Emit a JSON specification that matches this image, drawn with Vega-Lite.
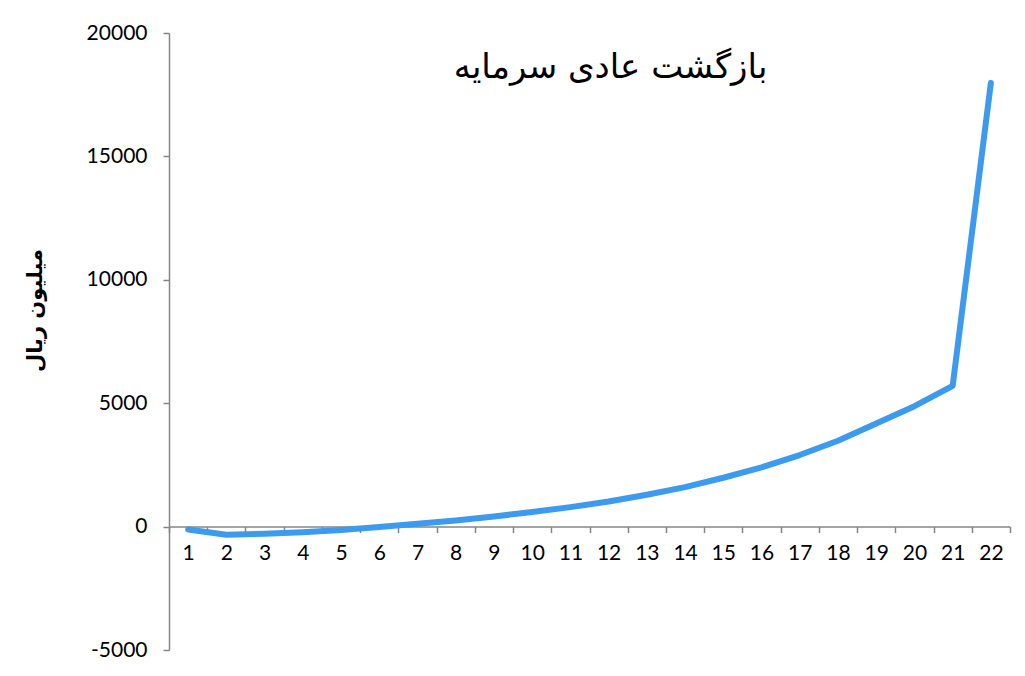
{
  "$schema": "https://vega.github.io/schema/vega-lite/v6.json",
  "width": 841,
  "height": 617,
  "autosize": "none",
  "padding": {"left": 169, "top": 33, "right": 15, "bottom": 26},
  "background": "white",
  "title": {
    "text": "بازگشت عادی سرمایه",
    "font": "DejaVu Sans",
    "fontSize": 34,
    "fontWeight": "normal",
    "color": "#000000",
    "anchor": "middle",
    "frame": "group",
    "baseline": "alphabetic",
    "offset": 0,
    "dy": 90,
    "dx": 21
  },
  "data": {
    "values": [
      {"year": 1, "value": -120},
      {"year": 2, "value": -330},
      {"year": 3, "value": -290},
      {"year": 4, "value": -230},
      {"year": 5, "value": -140},
      {"year": 6, "value": -20},
      {"year": 7, "value": 120},
      {"year": 8, "value": 250},
      {"year": 9, "value": 410},
      {"year": 10, "value": 590},
      {"year": 11, "value": 790},
      {"year": 12, "value": 1020},
      {"year": 13, "value": 1290},
      {"year": 14, "value": 1600},
      {"year": 15, "value": 1980},
      {"year": 16, "value": 2400},
      {"year": 17, "value": 2900},
      {"year": 18, "value": 3480},
      {"year": 19, "value": 4180},
      {"year": 20, "value": 4880},
      {"year": 21, "value": 5700},
      {"year": 22, "value": 17980}
    ]
  },
  "mark": {"type": "line", "color": "#3C9BEE", "strokeWidth": 6, "strokeCap": "round", "strokeJoin": "round"},
  "encoding": {
    "x": {
      "field": "year",
      "type": "ordinal",
      "sort": null,
      "scale": {"type": "band", "paddingInner": 0, "paddingOuter": 0},
      "axis": {
        "title": null,
        "labelAngle": 0,
        "offset": -123.4,
        "domainColor": "#868686",
        "domainWidth": 1.5,
        "tickColor": "#868686",
        "tickWidth": 1.5,
        "tickSize": 6,
        "tickBand": "extent",
        "labelFont": "Lato",
        "labelFontSize": 21,
        "labelColor": "#000000",
        "labelPadding": 10,
        "grid": false
      }
    },
    "y": {
      "field": "value",
      "type": "quantitative",
      "scale": {"domain": [-5000, 20000], "nice": false, "zero": false},
      "axis": {
        "values": [-5000, 0, 5000, 10000, 15000, 20000],
        "labelExpr": "datum.value < 0 ? '-' + abs(datum.value) : '' + datum.value",
        "grid": false,
        "title": "میلیون ریال",
        "titleFont": "DejaVu Sans",
        "titleFontSize": 21,
        "titleFontWeight": "bold",
        "titleColor": "#000000",
        "titleX": -134,
        "titleY": 277,
        "titleAlign": "center",
        "titleBaseline": "middle",
        "titleAngle": -90,
        "domainColor": "#868686",
        "domainWidth": 1.5,
        "tickColor": "#868686",
        "tickWidth": 1.5,
        "tickSize": 6,
        "labelFont": "Lato",
        "labelFontSize": 21,
        "labelColor": "#000000",
        "labelPadding": 16
      }
    }
  },
  "config": {
    "view": {"stroke": null}
  }
}
